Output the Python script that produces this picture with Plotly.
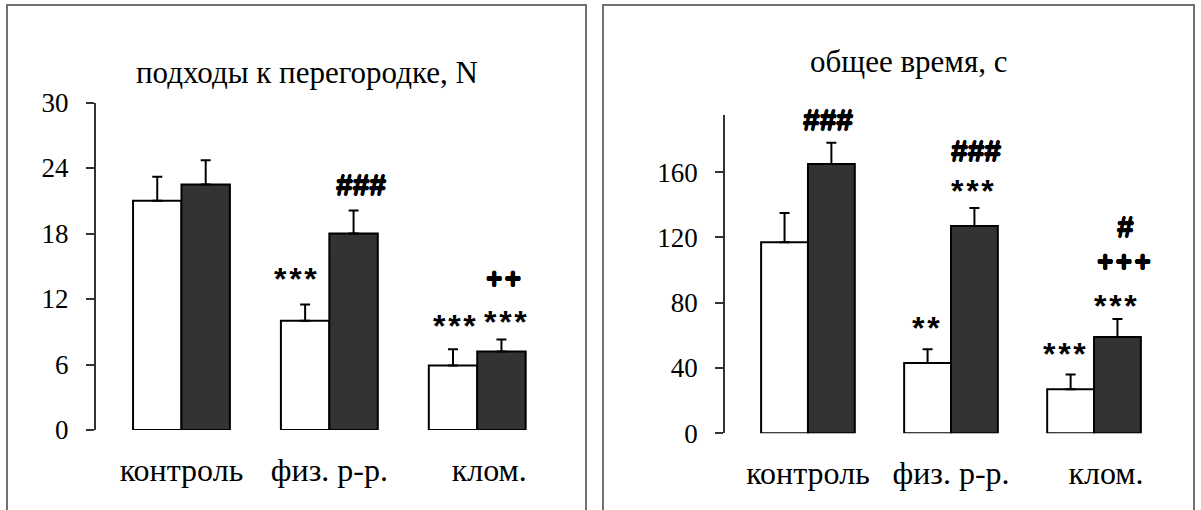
import plotly.graph_objects as go
from plotly.subplots import make_subplots

# Groups and their axis labels
categories = ["контроль", "физ. р-р.", "клом."]
tick_labels = ["контроль", "физ. р-р.", "\u00a0\u00a0\u00a0клом."]
x_pos = [0, 1, 2]

# Panel 1: approaches to the partition, N (mean and SEM)
approach_light = [21.0, 10.0, 5.9]
approach_light_err = [2.2, 1.5, 1.5]
approach_dark = [22.5, 18.0, 7.2]
approach_dark_err = [2.2, 2.1, 1.1]

# Panel 2: total time, s (mean and SEM)
time_light = [117, 43, 27]
time_light_err = [18, 8.5, 9]
time_dark = [165, 127, 59]
time_dark_err = [13, 11, 11]

W, H = 1201, 510


def px(x):
    return x / W


def py(y):
    return 1 - y / H


fig = make_subplots(rows=1, cols=2)

bar_line = dict(color="black", width=2)


def err(vals):
    return dict(type="data", array=vals, arrayminus=[0] * len(vals), symmetric=False,
                color="black", thickness=2, width=5)


for col, (lv, le, dv, de) in enumerate(
        [(approach_light, approach_light_err, approach_dark, approach_dark_err),
         (time_light, time_light_err, time_dark, time_dark_err)], start=1):
    fig.add_trace(go.Bar(x=x_pos, y=lv, error_y=err(le), marker=dict(color="white", line=bar_line),
                         showlegend=False), row=1, col=col)
    fig.add_trace(go.Bar(x=x_pos, y=dv, error_y=err(de), marker=dict(color="#333333", line=bar_line),
                         showlegend=False), row=1, col=col)

serif = "'Liberation Serif', Tinos, 'Times New Roman', 'DejaVu Serif', serif"
sans = "'Liberation Sans', Arimo, Arial, sans-serif"

xaxis_common = dict(range=[-0.58, 2.58], tickvals=x_pos, ticktext=tick_labels, ticks="",
                    showline=False, showgrid=False, zeroline=False, automargin=False,
                    tickfont=dict(family=serif, size=32, color="black"), ticklabelstandoff=18)
yaxis_common = dict(showline=True, linecolor="#333333", linewidth=1.5, ticks="outside",
                    ticklen=8, tickwidth=1.5, tickcolor="#333333", showgrid=False, zeroline=False,
                    automargin=False,
                    tickfont=dict(family=serif, size=27, color="black"), ticklabelstandoff=12)

fig.update_layout(
    width=W, height=H, margin=dict(l=0, r=0, t=0, b=0, autoexpand=False),
    paper_bgcolor="white", plot_bgcolor="white",
    barmode="group", bargap=0.345, bargroupgap=0,
    xaxis=dict(domain=[px(95.7), px(563)], **xaxis_common),
    xaxis2=dict(domain=[px(725), px(1177)], **xaxis_common),
    yaxis=dict(domain=[py(430), py(102.5)], range=[0, 30], tickvals=[0, 6, 12, 18, 24, 30],
               **yaxis_common),
    yaxis2=dict(domain=[py(433.3), py(115)], range=[0, 195], tickvals=[0, 40, 80, 120, 160],
                **yaxis_common),
)

# Panel frames
frame = dict(color="#707070", width=2)
fig.add_shape(type="rect", xref="paper", yref="paper", x0=px(7), x1=px(586), y0=py(530), y1=py(5),
              line=frame)
fig.add_shape(type="rect", xref="paper", yref="paper", x0=px(603), x1=px(1194), y0=py(530), y1=py(5),
              line=frame)

# Panel titles
title_font = dict(family=serif, size=31, color="black")
fig.add_annotation(text="подходы к перегородке, N", xref="paper", yref="paper", x=px(306.7), y=py(92),
                   xanchor="center", yanchor="bottom", showarrow=False, font=title_font)
fig.add_annotation(text="общее время, с", xref="paper", yref="paper", x=px(908), y=py(81),
                   xanchor="center", yanchor="bottom", showarrow=False, font=title_font)

# Significance marks (heavy strokes via a thin text shadow)
hs = "\u200a"
heavy = "0.6px 0 0 black, -0.6px 0 0 black, 0 0.6px 0 black, 0 -0.6px 0 black"
star_font = dict(family=sans, size=32, color="black", weight="bold")
hash_font = dict(family=sans, size=30, color="black", weight="bold", shadow=heavy)
plus_font = dict(family=sans, size=28, color="black", weight="bold", shadow=heavy)
marks = [
    ("x", "y", 0.77, 13.8, "***", star_font),
    ("x", "y", 1.216, 22.5, "###", hash_font),
    ("x", "y", 2.178, 13.9, "++", plus_font),
    ("x", "y", 1.847, 9.5, "***", star_font),
    ("x", "y", 2.189, 9.9, "***", star_font),
    ("x2", "y2", 0.138, 192.4, "###", hash_font),
    ("x2", "y2", 1.178, 173.3, "###", hash_font),
    ("x2", "y2", 1.150, 148.6, "***", star_font),
    ("x2", "y2", 0.823, 64.4, "**", star_font),
    ("x2", "y2", 2.22, 126.6, "#", hash_font),
    ("x2", "y2", 2.21, 105.3, "+++", plus_font),
    ("x2", "y2", 2.152, 78.0, "***", star_font),
    ("x2", "y2", 1.79, 48.8, "***", star_font),
]
for xr, yr, x, y, t, f in marks:
    label = t if f is hash_font else hs.join(t)
    fig.add_annotation(text="<b>" + label + "</b>", xref=xr, yref=yr, x=x, y=y,
                       xanchor="center", yanchor="middle", showarrow=False, font=f)

fig.write_html("out.html")
